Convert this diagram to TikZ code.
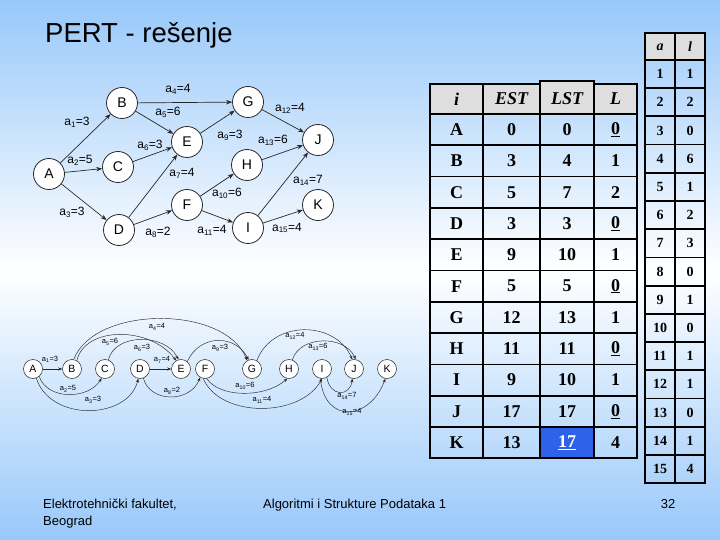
\documentclass[tikz,border=0pt]{standalone}
\usepackage{fontspec}
\setmainfont{Liberation Serif}
\setsansfont{Liberation Sans}
\usetikzlibrary{arrows.meta}
\definecolor{bgb}{RGB}{152,200,250}
\definecolor{hdr}{RGB}{222,222,222}
\definecolor{selb}{RGB}{46,98,235}
\definecolor{edgec}{RGB}{40,40,40}
\begin{document}
\begin{tikzpicture}[x=1pt,y=-1pt,
  gn/.style={circle,draw=edgec,fill=white,line width=0.8pt,minimum size=31pt,inner sep=0pt,font=\sffamily\fontsize{14}{14}\selectfont},
  ge/.style={-{Stealth[length=6pt,width=4.5pt]},line width=0.7pt,edgec},
  gl/.style={font=\sffamily\fontsize{12}{12}\selectfont,inner sep=0pt},
  mn/.style={circle,draw=edgec,fill=white,line width=0.5pt,minimum size=19pt,inner sep=0pt,font=\sffamily\fontsize{10.5}{10.5}\selectfont},
  me/.style={-{Stealth[length=4pt,width=3pt]},line width=0.45pt,edgec},
  ml/.style={font=\sffamily\fontsize{7.5}{7.5}\selectfont,inner sep=0pt},
  tc/.style={font=\bfseries\fontsize{18}{18}\selectfont,inner sep=0pt},
  th/.style={font=\bfseries\itshape\fontsize{18}{18}\selectfont,inner sep=0pt},
  sc/.style={font=\bfseries\fontsize{14}{14}\selectfont,inner sep=0pt},
  sh/.style={font=\bfseries\itshape\fontsize{14}{14}\selectfont,inner sep=0pt},
  gridl/.style={line width=1.8pt,black,line cap=rect},
  ft/.style={font=\sffamily\fontsize{13}{13}\selectfont,inner sep=0pt},
]
\useasboundingbox (0,0) rectangle (720,540);
\shade[top color=bgb,bottom color=bgb,middle color=white] (0,0) rectangle (720,540);

% title
\node[anchor=base west,inner sep=0pt,font=\sffamily\fontsize{27.5}{27.5}\selectfont] (title) at (45,43) {PERT - rešenje};

% ---------- top graph ----------
\node[gn] (A) at (49,174) {A};
\node[gn] (B) at (122,103) {B};
\node[gn] (C) at (118,167) {C};
\node[gn] (D) at (119,230) {D};
\node[gn] (E) at (187,142) {E};
\node[gn] (F) at (187,205) {F};
\node[gn] (G) at (248,102) {G};
\node[gn] (H) at (247,165) {H};
\node[gn] (I) at (248,228) {I};
\node[gn] (J) at (318,140) {J};
\node[gn] (K) at (318,205) {K};

\draw[ge] (A) -- (B);
\draw[ge] (A) -- (C);
\draw[ge] (A) -- (D);
\draw[ge] (B) -- (G);
\draw[ge] (B) -- (E);
\draw[ge] (C) -- (E);
\draw[ge] (D) -- (E);
\draw[ge] (D) -- (F);
\draw[ge] (E) -- (G);
\draw[ge] (F) -- (H);
\draw[ge] (F) -- (I);
\draw[ge] (G) -- (J);
\draw[ge] (H) -- (J);
\draw[ge] (I) -- (J);
\draw[ge] (I) -- (K);

\node[gl] (l1) at (77,122) {a\textsubscript{1}=3};
\node[gl] (l2) at (80,160) {a\textsubscript{2}=5};
\node[gl] (l3) at (72,212) {a\textsubscript{3}=3};
\node[gl] (l4) at (178,89) {a\textsubscript{4}=4};
\node[gl] (l5) at (168,112) {a\textsubscript{5}=6};
\node[gl] (l6) at (150,145) {a\textsubscript{6}=3};
\node[gl] (l7) at (182,173) {a\textsubscript{7}=4};
\node[gl] (l8) at (158,232) {a\textsubscript{8}=2};
\node[gl] (l9) at (230,135) {a\textsubscript{9}=3};
\node[gl] (l10) at (227,193) {a\textsubscript{10}=6};
\node[gl] (l11) at (212,230) {a\textsubscript{11}=4};
\node[gl] (l12) at (290,108) {a\textsubscript{12}=4};
\node[gl] (l13) at (273,140) {a\textsubscript{13}=6};
\node[gl] (l14) at (308,180) {a\textsubscript{14}=7};
\node[gl] (l15) at (287,228) {a\textsubscript{15}=4};

% ---------- linear graph ----------
\node[mn] (mA) at (33,369) {A};
\node[mn] (mB) at (72,369) {B};
\node[mn] (mC) at (105,369) {C};
\node[mn] (mD) at (140,369) {D};
\node[mn] (mE) at (181,369) {E};
\node[mn] (mF) at (205,369) {F};
\node[mn] (mG) at (252,369) {G};
\node[mn] (mH) at (289,369) {H};
\node[mn] (mI) at (322,369) {I};
\node[mn] (mJ) at (354,369) {J};
\node[mn] (mK) at (387,369) {K};

\draw[me] (mA) -- (mB);
\draw[me] (mD) -- (mE);
\draw[me] (mA.-50) .. controls (47,400) and (88,400) .. (mC.-110);
\draw[me] (mA.-70) .. controls (50,422) and (128,420) .. (mD.-100);
\draw[me] (mB.80) .. controls (95,305) and (225,305) .. (mG.120);
\draw[me] (mB.60) .. controls (85,326) and (150,326) .. (mE.120);
\draw[me] (mC.70) .. controls (115,333) and (165,333) .. (mE.105);
\draw[me] (mD.-70) .. controls (150,403) and (190,403) .. (mF.-120);
\draw[me] (mE.50) .. controls (200,334) and (235,334) .. (mG.110);
\draw[me] (mF.-80) .. controls (220,398) and (265,398) .. (mH.-100);
\draw[me] (mF.-100) .. controls (220,418) and (300,418) .. (mI.-90);
\draw[me] (mG.60) .. controls (272,320) and (335,320) .. (mJ.100);
\draw[me] (mH.70) .. controls (300,335) and (345,335) .. (mJ.80);
\draw[me] (mI.-60) .. controls (330,397) and (350,397) .. (mJ.-100);
\draw[me] (mI.-100) .. controls (325,425) and (370,420) .. (mK.-100);

\node[ml] (m1) at (50,359) {a\textsubscript{1}=3};
\node[ml] (m2) at (68,389) {a\textsubscript{2}=5};
\node[ml] (m3) at (93,400) {a\textsubscript{3}=3};
\node[ml] (m4) at (157,327) {a\textsubscript{4}=4};
\node[ml] (m5) at (110,342) {a\textsubscript{5}=6};
\node[ml] (m6) at (142,348) {a\textsubscript{6}=3};
\node[ml] (m7) at (162,360) {a\textsubscript{7}=4};
\node[ml] (m8) at (172,391) {a\textsubscript{8}=2};
\node[ml] (m9) at (220,348) {a\textsubscript{9}=3};
\node[ml] (m10) at (245,386) {a\textsubscript{10}=6};
\node[ml] (m11) at (262,400) {a\textsubscript{11}=4};
\node[ml] (m12) at (295,336) {a\textsubscript{12}=4};
\node[ml] (m13) at (318,347) {a\textsubscript{13}=6};
\node[ml] (m14) at (347,396) {a\textsubscript{14}=7};
\node[ml] (m15) at (352,412) {a\textsubscript{15}=4};

% ---------- main table ----------
\fill[hdr] (430,84) rectangle (637,114);
\fill[hdr] (540,81) rectangle (594,84);
\fill[selb] (540,427) rectangle (594,458.3);
\foreach \x in {430,483,540,594,637} \draw[gridl] (\x,84) -- (\x,458.3);
\draw[gridl] (540,84) -- (540,81) -- (594,81) -- (594,84);
\draw[gridl] (430,84) -- (540,84);
\draw[gridl] (594,84) -- (637,84);
\foreach \k in {0,...,11} \draw[gridl] (430,{114+\k*31.3}) -- (637,{114+\k*31.3});

\node[th] (hi) at (456.5,99) {i};
\node[th] (hest) at (511.5,99) {EST};
\node[th] (hlst) at (567,99) {LST};
\node[th] (hl) at (615.5,99) {L};

\foreach \n/\e/\s/\l [count=\r] in {A/0/0/\underline{0},B/3/4/1,C/5/7/2,D/3/3/\underline{0},E/9/10/1,F/5/5/\underline{0},G/12/13/1,H/11/11/\underline{0},I/9/10/1,J/17/17/\underline{0},K/13/{\color{white}\underline{17}}/4}{
  \node[tc] (t\r-1) at (456.5,{114+(\r-0.5)*31.3}) {\n};
  \node[tc] (t\r-2) at (511.5,{114+(\r-0.5)*31.3}) {\e};
  \node[tc] (t\r-3) at (567,{114+(\r-0.5)*31.3}) {\s};
  \node[tc] (t\r-4) at (615.5,{114+(\r-0.5)*31.3}) {\l};
}

% ---------- small table ----------
\fill[hdr] (645,33) rectangle (705,60);
\foreach \x in {645,675,705} \draw[gridl] (\x,33) -- (\x,483);
\draw[gridl] (645,33) -- (705,33);
\foreach \k in {0,...,15} \draw[gridl] (645,{60+\k*28.2}) -- (705,{60+\k*28.2});
\node[sh] (sa) at (660,47) {a};
\node[sh] (sl) at (690,47) {l};
\foreach \a/\v [count=\r] in {1/1,2/2,3/0,4/6,5/1,6/2,7/3,8/0,9/1,10/0,11/1,12/1,13/0,14/1,15/4}{
  \node[sc] (s\r-1) at (660,{60+(\r-0.5)*28.2}) {\a};
  \node[sc] (s\r-2) at (690,{60+(\r-0.5)*28.2}) {\v};
}

% ---------- footer ----------
\node[ft,anchor=base west] (f1) at (43,508) {Elektrotehnički fakultet,};
\node[ft,anchor=base west] (f2) at (43,525) {Beograd};
\node[ft,anchor=base west] (f3) at (263,508) {Algoritmi i Strukture Podataka 1};
\node[ft,anchor=base] (pg) at (668,508) {32};
\end{tikzpicture}
\end{document}
